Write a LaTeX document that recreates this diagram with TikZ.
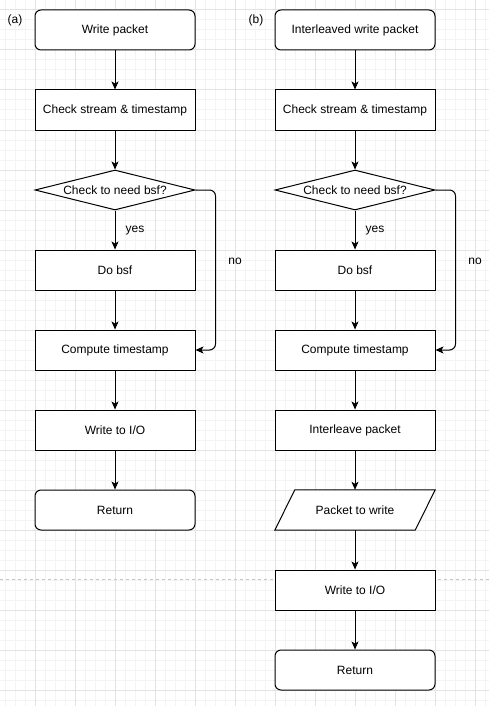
\documentclass[tikz,border=0pt]{standalone}
\usepackage{fontspec}
\setmainfont{Liberation Sans}
\usetikzlibrary{arrows.meta,shapes.geometric}
\definecolor{gridminor}{HTML}{F4F4F4}
\definecolor{gridmajor}{HTML}{E3E3E3}
\definecolor{dashgray}{HTML}{C4C4C4}
\begin{document}
\begin{tikzpicture}[x=1pt,y=-1pt,
  font=\fontsize{12}{14}\selectfont,
  box/.style={draw, line width=1pt, minimum width=160pt, minimum height=40pt, inner sep=0pt, fill=white},
  rbox/.style={box, rounded corners=6pt},
  plain/.style={minimum width=160pt, minimum height=40pt, inner sep=0pt},
  dec/.style={draw, diamond, aspect=4, line width=1pt, minimum width=160pt, minimum height=40pt, inner sep=0pt, fill=white},
  flow/.style={line width=1pt, -{Stealth[length=8pt,width=7pt,inset=2pt]}},
  lbl/.style={inner sep=0pt}]
\useasboundingbox (0,0) rectangle (489,706);
\fill[white] (0,0) rectangle (489,706);
% grid
\foreach \x in {5,15,...,485} \draw[gridminor, line width=1pt] (\x,0) -- (\x,706);
\foreach \y in {0,10,...,700} \draw[gridminor, line width=1pt] (0,\y) -- (489,\y);
\foreach \x in {35,75,...,475} \draw[gridmajor, line width=1pt] (\x,0) -- (\x,706);
\foreach \y in {10,50,...,690} \draw[gridmajor, line width=1pt] (0,\y) -- (489,\y);
% page break line
\coordinate (pbL) at (0,579);
\coordinate (pbR) at (489,579);
\draw[dashgray, line width=1pt, dash pattern=on 3pt off 3pt] (pbL) -- (pbR);

% labels
\node[lbl] (la) at (15,20) {(a)};
\node[lbl] (lb) at (256,20) {(b)};

% left column
\node[rbox] (a1) at (115,30) {Write packet};
\node[box]  (a2) at (115,110) {Check stream \& timestamp};
\node[dec]  (a3) at (115,190) {Check to need bsf?};
\node[box]  (a4) at (115,270) {Do bsf};
\node[box]  (a5) at (115,350) {Compute timestamp};
\node[box]  (a6) at (115,430) {Write to I/O};
\node[rbox] (a7) at (115,510) {Return};
\node[lbl] (ay) at (135,231) {yes};
\node[lbl] (an) at (235,261) {no};

\draw[flow] (a1) -- (a2);
\draw[flow] (a2) -- (a3);
\draw[flow] (a3) -- (a4);
\draw[flow] (a4) -- (a5);
\draw[flow] (a5) -- (a6);
\draw[flow] (a6) -- (a7);
\draw[flow, rounded corners=6pt] (a3.east) -- ++(20,0) |- (a5.east);

% right column
\node[rbox] (b1) at (355,30) {Interleaved write packet};
\node[box]  (b2) at (355,110) {Check stream \& timestamp};
\node[dec]  (b3) at (355,190) {Check to need bsf?};
\node[box]  (b4) at (355,270) {Do bsf};
\node[box]  (b5) at (355,350) {Compute timestamp};
\node[box]  (b6) at (355,430) {Interleave packet};
\node[plain] (b7) at (355,510) {};
\draw[line width=1pt, fill=white] ([xshift=20pt]b7.north west) -- (b7.north east) -- ([xshift=-20pt]b7.south east) -- (b7.south west) -- cycle;
\node[lbl] at (b7.center) {Packet to write};
\node[box]  (b8) at (355,590) {Write to I/O};
\node[rbox] (b9) at (355,670) {Return};
\node[lbl] (by) at (375,231) {yes};
\node[lbl] (bn) at (475,261) {no};

\draw[flow] (b1) -- (b2);
\draw[flow] (b2) -- (b3);
\draw[flow] (b3) -- (b4);
\draw[flow] (b4) -- (b5);
\draw[flow] (b5) -- (b6);
\draw[flow] (b6) -- (b7);
\draw[flow] (b7) -- (b8);
\draw[flow] (b8) -- (b9);
\draw[flow, rounded corners=6pt] (b3.east) -- ++(20,0) |- (b5.east);
\end{tikzpicture}
\end{document}
